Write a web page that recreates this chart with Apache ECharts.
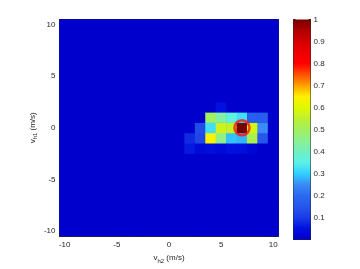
<!DOCTYPE html>
<html><head><meta charset="utf-8">
<script src="https://cdn.jsdelivr.net/npm/echarts@6/dist/echarts.min.js"></script>
<style>html,body{margin:0;padding:0;background:#fff}#c{width:360px;height:269px}</style>
</head><body><div id="c"></div>
<script>
// Axis categories (cell centres, m/s)
const xCategories = ['-10','-9','-8','-7','-6','-5','-4','-3','-2','-1','0','1','2','3','4','5','6','7','8','9','10'];
const yCategories = ['-10','-9','-8','-7','-6','-5','-4','-3','-2','-1','0','1','2','3','4','5','6','7','8','9','10'];
const xTickLabels = ['-10','-5','0','5','10'];
const yTickLabels = ['-10','-5','0','5','10'];

// Non-zero cells (all other cells are 0)
const cellX =     [5,    4,   5,   6,   7,   8,   9,    3,   4,   5,   6,   7,   8,   9,    2,   3,   4,   5,   6,   7,   8,   9,    2,   3,   4,   5,   6,   7,   8];
const cellY =     [2,    1,   1,   1,   1,   1,   1,    0,   0,   0,   0,   0,   0,   0,   -1,  -1,  -1,  -1,  -1,  -1,  -1,  -1,   -2,  -2,  -2,  -2,  -2,  -2,  -2];
const cellValue = [0.05, 0.50,0.43,0.36,0.32,0.17,0.17, 0.13,0.32,0.57,0.56,1.00,0.58,0.25, 0.08,0.12,0.64,0.46,0.29,0.28,0.52,0.15, 0.06,0.03,0.04,0.03,0.05,0.04,0.02];

// Marked position (red circle)
const markerX = 7;
const markerY = 0;

// Colour bar
const colorbarMax = 1;
const colorbarTicks = [0.1,0.2,0.3,0.4,0.5,0.6,0.7,0.8,0.9,1];
const colormap = ['#0000cc','#0010e0','#1a3ce6','#2656ec','#2a6af0','#3a8cf4','#30d0ff','#5cf0e8','#70f0c0','#8cf090','#a0f060','#bef030','#e0f800','#fff000','#ffa000','#ff5000','#ff0000','#ee0000','#d40000','#b00000','#780000'];

// Build full grid
const valueMap = {};
for (let i = 0; i < cellX.length; i++) valueMap[cellX[i] + ',' + cellY[i]] = cellValue[i];
const heatData = [];
for (const xs of xCategories) for (const ys of yCategories) {
  const v = valueMap[xs + ',' + ys];
  heatData.push([xs, ys, v === undefined ? 0 : v]);
}

const FONT = 'Liberation Sans, Arial, sans-serif';
const TXT = '#262626';
const showX = (idx, val) => xTickLabels.indexOf(String(val)) >= 0;
const showY = (idx, val) => yTickLabels.indexOf(String(val)) >= 0;

const chart = echarts.init(document.getElementById('c'), null, {renderer: 'canvas'});
const gradStops = colormap.map((c, i) => ({offset: i / (colormap.length - 1), color: c}));

chart.setOption({
  animation: false,
  textStyle: {fontFamily: FONT},
  grid: [
    {left: 59.5, top: 19.5, width: 219, height: 220, show: true, backgroundColor: colormap[0], borderWidth: 0},
    {left: 293.5, top: 19.5, width: 17, height: 220}
  ],
  visualMap: {show: false, min: 0, max: colorbarMax, seriesIndex: 0, inRange: {color: colormap}},
  xAxis: [
    {type: 'category', data: xCategories, gridIndex: 0, position: 'bottom',
     axisLine: {lineStyle: {color: TXT, width: 1}},
     axisTick: {inside: true, length: 3, alignWithLabel: true, interval: showX, lineStyle: {color: TXT}},
     axisLabel: {interval: showX, fontSize: 8, color: TXT, margin: 5, fontFamily: FONT},
     name: '{a|v}{s|h2}{a| (m/s)}', nameLocation: 'middle', nameGap: 15,
     nameTextStyle: {rich: {a: {fontSize: 8, color: TXT, fontFamily: FONT}, s: {fontSize: 6, color: TXT, fontFamily: FONT, padding: [6, 0, 0, 0]}}}},
    {type: 'category', data: xCategories, gridIndex: 0, position: 'top',
     axisLine: {lineStyle: {color: TXT, width: 1}},
     axisTick: {inside: true, length: 3, alignWithLabel: true, interval: showX, lineStyle: {color: TXT}},
     axisLabel: {show: false}},
    {type: 'category', data: ['cb'], gridIndex: 1, position: 'bottom',
     axisLine: {lineStyle: {color: TXT}}, axisTick: {show: false}, axisLabel: {show: false}},
    {type: 'category', data: ['cb'], gridIndex: 1, position: 'top',
     axisLine: {lineStyle: {color: TXT}}, axisTick: {show: false}, axisLabel: {show: false}}
  ],
  yAxis: [
    {type: 'category', data: yCategories, gridIndex: 0, position: 'left',
     axisLine: {lineStyle: {color: TXT, width: 1}},
     axisTick: {inside: true, length: 3, alignWithLabel: true, interval: showY, lineStyle: {color: TXT}},
     axisLabel: {interval: showY, fontSize: 8, color: TXT, margin: 4, fontFamily: FONT},
     name: '{a|v}{s|h1}{a| (m/s)}', nameLocation: 'middle', nameGap: 21, nameMoveOverlap: false,
     nameTextStyle: {rich: {a: {fontSize: 8, color: TXT, fontFamily: FONT}, s: {fontSize: 6, color: TXT, fontFamily: FONT, padding: [6, 0, 0, 0]}}}},
    {type: 'category', data: yCategories, gridIndex: 0, position: 'right',
     axisLine: {lineStyle: {color: TXT, width: 1}},
     axisTick: {inside: true, length: 3, alignWithLabel: true, interval: showY, lineStyle: {color: TXT}},
     axisLabel: {show: false}},
    {type: 'value', gridIndex: 1, position: 'right', min: 0, max: colorbarMax, interval: 0.1,
     splitLine: {show: false},
     axisLine: {show: true, lineStyle: {color: TXT}},
     axisTick: {show: true, inside: true, length: 2, lineStyle: {color: TXT}},
     axisLabel: {fontSize: 8, color: TXT, margin: 3, fontFamily: FONT,
       formatter: v => (colorbarTicks.some(t => Math.abs(t - v) < 1e-9) ? String(Math.round(v * 10) / 10) : '')}},
    {type: 'value', gridIndex: 1, position: 'left', min: 0, max: colorbarMax, interval: 0.1,
     splitLine: {show: false},
     axisLine: {show: true, lineStyle: {color: TXT}},
     axisTick: {show: true, inside: true, length: 2, lineStyle: {color: TXT}},
     axisLabel: {show: false}}
  ],
  series: [
    {type: 'heatmap', xAxisIndex: 0, yAxisIndex: 0, data: heatData, itemStyle: {borderWidth: 0}, z: 1},
    {type: 'scatter', xAxisIndex: 0, yAxisIndex: 0, data: [[String(markerX), String(markerY)]],
     symbol: 'circle', symbolSize: 15,
     itemStyle: {color: 'rgba(0,0,0,0)', borderColor: '#ff1010', borderWidth: 2.5}, z: 5},
    {type: 'bar', xAxisIndex: 2, yAxisIndex: 2, data: [colorbarMax], barWidth: '100%',
     itemStyle: {color: {type: 'linear', x: 0, y: 1, x2: 0, y2: 0, colorStops: gradStops}}, z: 1}
  ]
});
</script></body></html>
